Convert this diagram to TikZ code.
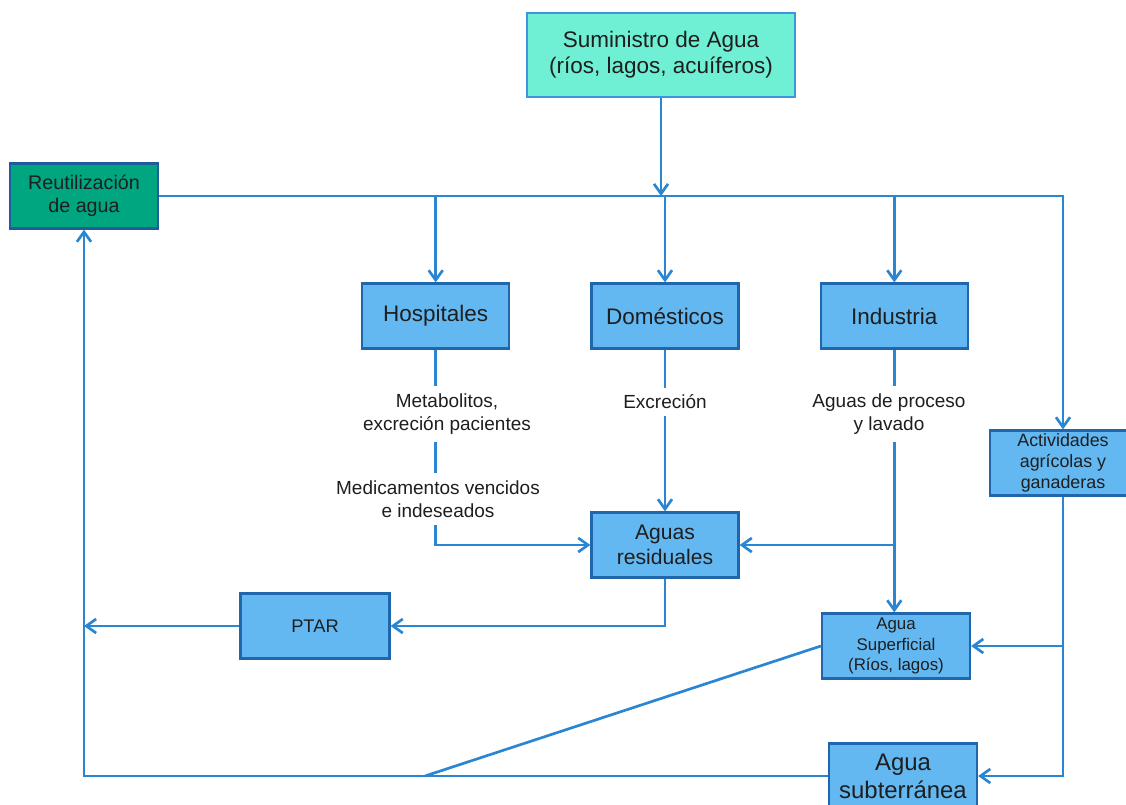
\documentclass[tikz,border=0pt]{standalone}
\usepackage{fontspec}
\setmainfont{Liberation Sans}
\usetikzlibrary{arrows.meta,positioning}
\usepackage{xcolor}
\definecolor{LineBlue}{HTML}{2A86D3}
\definecolor{EdgeBlue}{HTML}{1F66AD}
\definecolor{BoxBlue}{HTML}{63B8F1}
\definecolor{Aqua}{HTML}{6FF0D4}
\definecolor{AquaEdge}{HTML}{3E95DB}
\definecolor{Reuse}{HTML}{00A67F}
\definecolor{ReuseEdge}{HTML}{1F5C9C}
\definecolor{Ink}{HTML}{1E1E1E}

\begin{document}
\begin{tikzpicture}[
  x=0.025cm, y=-0.025cm,
  box/.style={draw=EdgeBlue, line width=1.6pt, fill=BoxBlue, minimum width=3.675cm,
              minimum height=1.625cm, align=center, inner sep=2pt, text=Ink},
  lbl/.style={align=center, inner xsep=2pt, inner ysep=5pt, text=Ink,
              font=\fontsize{13.5}{16.5}\selectfont},
  flow/.style={draw=LineBlue, line width=1.9pt},
  >={Straight Barb[length=7pt,width=10pt]},
  node distance=2.0cm
]
  \fill[white] (0,0) rectangle (1126,804);
  \useasboundingbox (0,0) rectangle (1126,804);

  % supply and reuse
  \node[box, fill=Aqua, draw=AquaEdge, line width=1.2pt, minimum width=6.7cm, minimum height=2.1cm,
        font=\fontsize{16}{18.5}\selectfont] (sum) at (661,55) {Suministro de Agua\\(ríos, lagos, acuíferos)};
  \node[box, fill=Reuse, draw=ReuseEdge, minimum width=3.7cm,
        font=\fontsize{14}{16.5}\selectfont] (reuse) at (84,196) {Reutilización\\de agua};

  % users
  \node[box, font=\fontsize{16}{18}\selectfont] (dom) at (665,316) {Domésticos};
  \node[box, font=\fontsize{16}{18}\selectfont, left=of dom]  (hosp) {Hospitales};
  \node[box, font=\fontsize{16}{18}\selectfont, right=of dom] (ind) {Industria};
  \node[box, minimum width=3.65cm, font=\fontsize{12.7}{15}\selectfont] (act) at (1063,463)
        {Actividades\\agrícolas y\\ganaderas};

  % labels on the discharge lines
  \node[lbl] (metab) at (447,414) {Metabolitos,\\excreción pacientes};
  \node[lbl] (medic) at (438,499) {Medicamentos vencidos\\e indeseados};
  \node[lbl] (excr)  at (665,402) {Excreción};
  \node[lbl] (proc)  at (889,414) {Aguas de proceso\\y lavado};

  % receiving bodies
  \node[box, font=\fontsize{15}{17.7}\selectfont] (res) at (665,545) {Aguas\\residuales};
  \node[box, minimum width=3.725cm, font=\fontsize{13}{15}\selectfont] (ptar) at (315,626) {PTAR};
  \node[box, minimum width=3.7cm, font=\fontsize{12}{14.5}\selectfont] (sup) at (896,646)
        {Agua\\Superficial\\(Ríos, lagos)};
  \node[box, minimum width=3.7cm, font=\fontsize{17}{20}\selectfont] (sub) at (903,776)
        {Agua\\subterránea};
  \coordinate (meet) at (425,776);

  % distribution line
  \draw[flow, ->] (reuse.east) -| (act.north);
  \draw[flow, ->] (sum.south) -- (sum.south |- reuse.east);
  \draw[flow, ->] (hosp.north |- reuse.east) -- (hosp.north);
  \draw[flow, ->] (dom.north |- reuse.east) -- (dom.north);
  \draw[flow, ->] (ind.north |- reuse.east) -- (ind.north);

  % discharges
  \draw[flow] (hosp.south) -- (hosp.south |- metab.north);
  \draw[flow] (hosp.south |- metab.south) -- (hosp.south |- medic.north);
  \draw[flow, ->] (hosp.south |- medic.south) |- (res.west);
  \draw[flow] (dom.south) -- (excr.north);
  \draw[flow, ->] (excr.south) -- (res.north);
  \draw[flow] (ind.south) -- (ind.south |- proc.north);
  \draw[flow, ->] (ind.south |- proc.south) -- (ind.south |- sup.north);
  \draw[flow, ->] (ind.south |- res.east) -- (res.east);
  \draw[flow, ->] (act.south) |- (sub.east);
  \draw[flow, ->] (act.south |- sup.east) -- (sup.east);

  % treatment and return
  \draw[flow, ->] (res.south) |- (ptar.east);
  \draw[flow, ->] (ptar.west) -- (ptar.west -| reuse.south);
  \draw[flow, ->] (sub.west) -| (reuse.south);
  \draw[flow] (sup.west) -- (meet);
\end{tikzpicture}
\end{document}
